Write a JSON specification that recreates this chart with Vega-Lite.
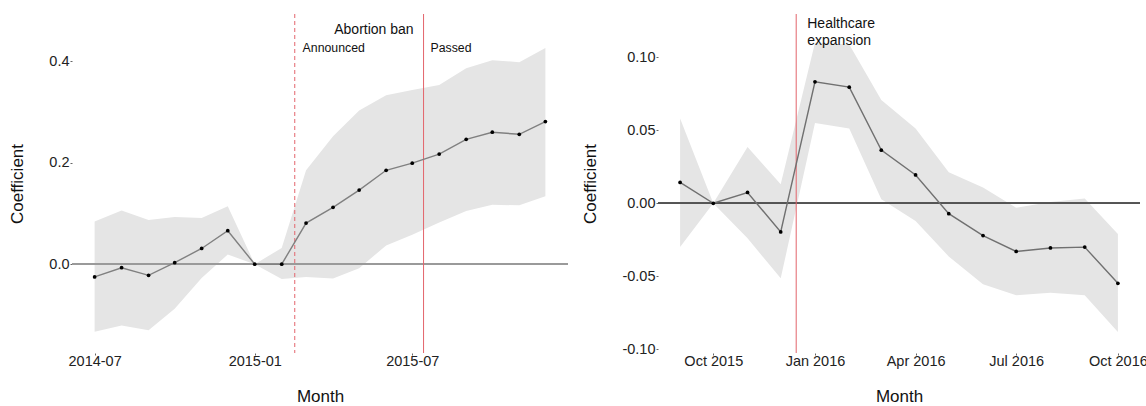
{
  "$schema": "https://vega.github.io/schema/vega-lite/v6.json",
  "padding": {"left": 8, "top": 13, "right": 0, "bottom": 0},
  "background": "white",
  "bounds": "flush",
  "spacing": 90,
  "config": {
    "view": {"stroke": null},
    "font": "Liberation Sans",
    "axis": {
      "grid": false,
      "domain": false,
      "tickSize": 2,
      "tickColor": "#666",
      "labelFont": "Liberation Sans",
      "titleFont": "Liberation Sans",
      "labelFontSize": 14.5,
      "titleFontSize": 17,
      "titleFontWeight": "normal",
      "labelColor": "#222",
      "titleColor": "#111"
    }
  },
  "datasets": {
    "abortion": [
      {"month": "2014-07-01", "coef": -0.025, "lo": -0.133, "hi": 0.084},
      {"month": "2014-08-01", "coef": -0.007, "lo": -0.121, "hi": 0.106},
      {"month": "2014-09-01", "coef": -0.022, "lo": -0.130, "hi": 0.087},
      {"month": "2014-10-01", "coef": 0.003, "lo": -0.088, "hi": 0.093},
      {"month": "2014-11-01", "coef": 0.031, "lo": -0.027, "hi": 0.091},
      {"month": "2014-12-01", "coef": 0.066, "lo": 0.019, "hi": 0.114},
      {"month": "2015-01-01", "coef": 0.0, "lo": 0.0, "hi": 0.0},
      {"month": "2015-02-01", "coef": 0.0, "lo": -0.029, "hi": 0.032},
      {"month": "2015-03-01", "coef": 0.081, "lo": -0.025, "hi": 0.185},
      {"month": "2015-04-01", "coef": 0.112, "lo": -0.028, "hi": 0.252},
      {"month": "2015-05-01", "coef": 0.146, "lo": -0.008, "hi": 0.303},
      {"month": "2015-06-01", "coef": 0.185, "lo": 0.037, "hi": 0.333},
      {"month": "2015-07-01", "coef": 0.199, "lo": 0.058, "hi": 0.343},
      {"month": "2015-08-01", "coef": 0.217, "lo": 0.082, "hi": 0.353},
      {"month": "2015-09-01", "coef": 0.246, "lo": 0.105, "hi": 0.386},
      {"month": "2015-10-01", "coef": 0.260, "lo": 0.117, "hi": 0.402},
      {"month": "2015-11-01", "coef": 0.256, "lo": 0.116, "hi": 0.398},
      {"month": "2015-12-01", "coef": 0.281, "lo": 0.134, "hi": 0.426}
    ],
    "abortion_events": [
      {"date": "2015-02-16", "event": "Announced"},
      {"date": "2015-07-14", "event": "Passed"}
    ],
    "abortion_head": [
      {"date": "2015-05-18", "y": 0.4605, "note": "Abortion ban"}
    ],
    "abortion_notes": [
      {"date": "2015-02-25", "y": 0.426, "note": "Announced"},
      {"date": "2015-07-22", "y": 0.426, "note": "Passed"}
    ],
    "healthcare": [
      {"month": "2015-09-01", "coef": 0.0143, "lo": -0.030, "hi": 0.058},
      {"month": "2015-10-01", "coef": 0.0, "lo": 0.0, "hi": 0.0},
      {"month": "2015-11-01", "coef": 0.0074, "lo": -0.024, "hi": 0.0385},
      {"month": "2015-12-01", "coef": -0.0196, "lo": -0.0514, "hi": 0.0131},
      {"month": "2016-01-01", "coef": 0.0832, "lo": 0.055, "hi": 0.110},
      {"month": "2016-02-01", "coef": 0.0795, "lo": 0.0512, "hi": 0.1088},
      {"month": "2016-03-01", "coef": 0.0364, "lo": 0.0028, "hi": 0.0707},
      {"month": "2016-04-01", "coef": 0.0194, "lo": -0.0122, "hi": 0.0512},
      {"month": "2016-05-01", "coef": -0.0071, "lo": -0.0364, "hi": 0.0212},
      {"month": "2016-06-01", "coef": -0.0221, "lo": -0.0555, "hi": 0.0108},
      {"month": "2016-07-01", "coef": -0.033, "lo": -0.0629, "hi": -0.003},
      {"month": "2016-08-01", "coef": -0.0306, "lo": -0.0613, "hi": 0.0009},
      {"month": "2016-09-01", "coef": -0.030, "lo": -0.0629, "hi": 0.0032},
      {"month": "2016-10-01", "coef": -0.0548, "lo": -0.0882, "hi": -0.021}
    ],
    "healthcare_events": [
      {"date": "2015-12-15", "event": "Healthcare expansion"}
    ],
    "healthcare_notes": [
      {"date": "2015-12-25", "y": 0.123, "note": "Healthcare"},
      {"date": "2015-12-25", "y": 0.1113, "note": "expansion"}
    ]
  },
  "hconcat": [
    {
      "width": 496,
      "height": 339,
      "encoding": {
        "x": {
          "field": "month",
          "type": "temporal",
          "title": "Month",
          "scale": {
            "type": "utc",
            "domain": [
              {"year": 2014, "month": 6, "date": 5, "utc": true},
              {"year": 2015, "month": 12, "date": 27, "utc": true}
            ]
          },
          "axis": {
            "labelExpr": "utcFormat(datum.value, '%Y-%m')",
            "values": [
              {"year": 2014, "month": 7, "date": 1, "utc": true},
              {"year": 2015, "month": 1, "date": 1, "utc": true},
              {"year": 2015, "month": 7, "date": 1, "utc": true}
            ],
            "labelPadding": -1,
            "titlePadding": 21
          }
        },
        "y": {
          "field": "coef",
          "type": "quantitative",
          "title": "Coefficient",
          "scale": {"domain": [-0.175, 0.493], "nice": false, "zero": false},
          "axis": {
            "values": [0, 0.2, 0.4],
            "format": ".1f",
            "labelPadding": 1,
            "titlePadding": 22
          }
        }
      },
      "layer": [
        {
          "data": {"name": "abortion"},
          "mark": {"type": "area", "color": "#e5e5e5", "opacity": 1},
          "encoding": {
            "y": {"field": "lo", "type": "quantitative"},
            "y2": {"field": "hi"}
          }
        },
        {
          "data": {"name": "abortion"},
          "mark": {"type": "rule", "color": "#9a9a9a", "strokeWidth": 1.6},
          "encoding": {"y": {"datum": 0}, "x": null}
        },
        {
          "data": {"name": "abortion_events"},
          "mark": {"type": "rule", "color": "#e3646c", "strokeWidth": 1},
          "encoding": {
            "x": {"field": "date", "type": "temporal"},
            "y": null,
            "strokeDash": {
              "field": "event",
              "type": "nominal",
              "scale": {"domain": ["Announced", "Passed"], "range": [[4, 3], [1, 0]]},
              "legend": null
            }
          }
        },
        {
          "data": {"name": "abortion"},
          "mark": {"type": "line", "color": "#808080", "strokeWidth": 1.4}
        },
        {
          "data": {"name": "abortion"},
          "mark": {"type": "point", "filled": true, "color": "#000", "size": 14, "opacity": 1}
        },
        {
          "data": {"name": "abortion_head"},
          "mark": {"type": "text", "color": "#111", "baseline": "middle", "align": "center", "fontSize": 14},
          "encoding": {
            "x": {"field": "date", "type": "temporal"},
            "y": {"field": "y", "type": "quantitative"},
            "text": {"field": "note"}
          }
        },
        {
          "data": {"name": "abortion_notes"},
          "mark": {"type": "text", "color": "#111", "baseline": "middle", "align": "left", "fontSize": 12.3},
          "encoding": {
            "x": {"field": "date", "type": "temporal"},
            "y": {"field": "y", "type": "quantitative"},
            "text": {"field": "note"}
          }
        }
      ]
    },
    {
      "width": 482,
      "height": 339,
      "encoding": {
        "x": {
          "field": "month",
          "type": "temporal",
          "title": "Month",
          "scale": {
            "type": "utc",
            "domain": [
              {"year": 2015, "month": 8, "date": 12, "utc": true},
              {"year": 2016, "month": 10, "date": 21, "utc": true}
            ]
          },
          "axis": {
            "labelExpr": "utcFormat(datum.value, '%b %Y')",
            "values": [
              {"year": 2015, "month": 10, "date": 1, "utc": true},
              {"year": 2016, "month": 1, "date": 1, "utc": true},
              {"year": 2016, "month": 4, "date": 1, "utc": true},
              {"year": 2016, "month": 7, "date": 1, "utc": true},
              {"year": 2016, "month": 10, "date": 1, "utc": true}
            ],
            "labelPadding": -1,
            "titlePadding": 21
          }
        },
        "y": {
          "field": "coef",
          "type": "quantitative",
          "title": "Coefficient",
          "scale": {"domain": [-0.1025, 0.1296], "nice": false, "zero": false},
          "axis": {
            "values": [-0.1, -0.05, 0, 0.05, 0.1],
            "labelExpr": "(datum.value < 0 ? '-' : '') + format(abs(datum.value), '.2f')",
            "labelPadding": 1,
            "titlePadding": 22
          }
        }
      },
      "layer": [
        {
          "data": {"name": "healthcare"},
          "mark": {"type": "area", "color": "#e5e5e5", "opacity": 1},
          "encoding": {
            "y": {"field": "lo", "type": "quantitative"},
            "y2": {"field": "hi"}
          }
        },
        {
          "data": {"name": "healthcare"},
          "mark": {"type": "rule", "color": "#555555", "strokeWidth": 1},
          "encoding": {"y": {"datum": 0}, "x": null}
        },
        {
          "data": {"name": "healthcare_events"},
          "mark": {"type": "rule", "color": "#e3646c", "strokeWidth": 1},
          "encoding": {
            "x": {"field": "date", "type": "temporal"},
            "y": null
          }
        },
        {
          "data": {"name": "healthcare"},
          "mark": {"type": "line", "color": "#707070", "strokeWidth": 1.4}
        },
        {
          "data": {"name": "healthcare"},
          "mark": {"type": "point", "filled": true, "color": "#000", "size": 14, "opacity": 1}
        },
        {
          "data": {"name": "healthcare_notes"},
          "mark": {"type": "text", "color": "#111", "baseline": "middle", "align": "left", "fontSize": 14},
          "encoding": {
            "x": {"field": "date", "type": "temporal"},
            "y": {"field": "y", "type": "quantitative"},
            "text": {"field": "note"}
          }
        }
      ]
    }
  ]
}
